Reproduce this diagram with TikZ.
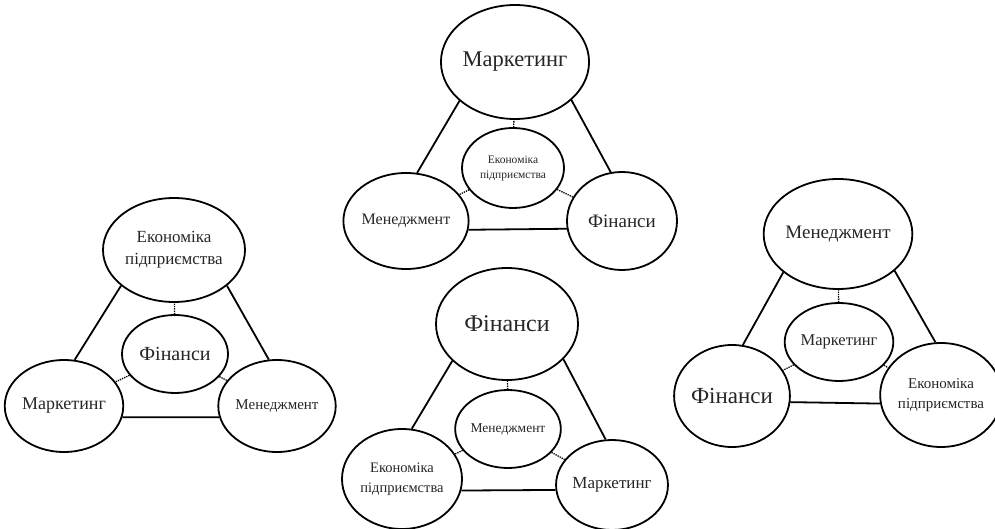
\documentclass[tikz,border=0pt]{standalone}
\usepackage{fontspec}
\setmainfont{Liberation Serif}
\usetikzlibrary{shapes.geometric}

\begin{document}
\begin{tikzpicture}[x=1pt,y=-1pt,
main node/.style={ellipse,draw,line width=1.8pt,inner sep=0pt,align=center,text=black!85},
link/.style={line width=1.8pt},
dot link/.style={line width=1.3pt,densely dotted}]
\useasboundingbox (0,0) rectangle (995,529);

\node[main node,minimum width=142pt,minimum height=114pt,font=\fontsize{22.5}{26}\selectfont] (11) at (515,62) {Маркетинг};
\node[main node,minimum width=118pt,minimum height=96pt,font=\fontsize{16}{20}\selectfont] (12) at (406,221) {Менеджмент};
\node[main node,minimum width=110pt,minimum height=98pt,font=\fontsize{19}{23}\selectfont] (13) at (622,221) {Фінанси};
\node[main node,minimum width=102pt,minimum height=80pt,font=\fontsize{11.5}{15}\selectfont] (14) at (513,168) {Економіка\\підприємства};

\node[main node,minimum width=142pt,minimum height=104pt,font=\fontsize{17}{22}\selectfont] (21) at (174,250) {Економіка\\підприємства};
\node[main node,minimum width=115pt,minimum height=92pt,font=\fontsize{18}{22}\selectfont] (22) at (64,406) {Маркетинг};
\node[main node,minimum width=111pt,minimum height=92pt,font=\fontsize{15}{19}\selectfont] (23) at (277,406) {Менеджмент};
\node[main node,minimum width=106pt,minimum height=78pt,font=\fontsize{20}{24}\selectfont] (24) at (175,354) {Фінанси};

\node[main node,minimum width=142pt,minimum height=112pt,font=\fontsize{24}{28}\selectfont] (31) at (507,324) {Фінанси};
\node[main node,minimum width=120pt,minimum height=100pt,font=\fontsize{14.5}{20}\selectfont] (32) at (402,479) {Економіка\\підприємства};
\node[main node,minimum width=110pt,minimum height=90pt,font=\fontsize{17}{21}\selectfont] (33) at (612,485) {Маркетинг};
\node[main node,minimum width=104pt,minimum height=78pt,font=\fontsize{13.5}{17}\selectfont] (34) at (508,429) {Менеджмент};

\node[main node,minimum width=138pt,minimum height=110pt,font=\fontsize{19}{23}\selectfont] (41) at (838,234) {Менеджмент};
\node[main node,minimum width=115pt,minimum height=102pt,font=\fontsize{23}{27}\selectfont] (42) at (732,396) {Фінанси};
\node[main node,minimum width=105pt,minimum height=104pt,font=\fontsize{15}{20}\selectfont] (43) at (941,395) {Економіка\\підприємства};
\node[main node,minimum width=104pt,minimum height=78pt,font=\fontsize{16.5}{20}\selectfont] (44) at (839,342) {Маркетинг};

\draw [link] (11.215) -- (12.77);
\draw [link] (11.326) -- (13.103);
\draw [link] (12.352) -- (13.188);
\draw [dot link] (14) -- (11);
\draw [dot link] (14) -- (12);
\draw [dot link] (14) -- (13);

\draw [link] (21.214) -- (22.77);
\draw [link] (21.326) -- (23.100);
\draw [link] (22.349) -- (23.191);
\draw [dot link] (24) -- (21);
\draw [dot link] (24) -- (22);
\draw [dot link] (24) -- (23);

\draw [link] (31.214) -- (32.79);
\draw [link] (31.328) -- (33.98);
\draw [link] (32.349) -- (33.185);
\draw [dot link] (34) -- (31);
\draw [dot link] (34) -- (32);
\draw [dot link] (34) -- (33);

\draw [link] (41.215) -- (42.78);
\draw [link] (41.327) -- (43.96);
\draw [link] (42.354) -- (43.188);
\draw [dot link] (44) -- (41);
\draw [dot link] (44) -- (42);
\draw [dot link] (44) -- (43);

\end{tikzpicture}
\end{document}
